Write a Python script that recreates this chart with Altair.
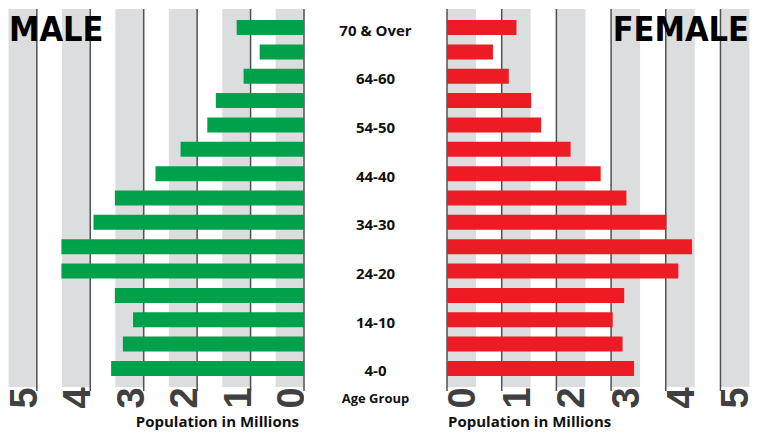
import altair as alt
import pandas as pd

ages = ["70 & Over", "69-65", "64-60", "59-55", "54-50", "49-45", "44-40", "39-35",
        "34-30", "29-25", "24-20", "19-15", "14-10", "9-5", "4-0"]
male = [1.26, 0.83, 1.13, 1.65, 1.81, 2.31, 2.78, 3.54, 3.94, 4.54, 4.54, 3.54, 3.20, 3.39, 3.61]
female = [1.27, 0.84, 1.13, 1.54, 1.72, 2.26, 2.81, 3.28, 4.01, 4.48, 4.23, 3.24, 3.03, 3.21, 3.42]
shown_ages = ["70 & Over", "64-60", "54-50", "44-40", "34-30", "24-20", "14-10", "4-0"]
ticks = [0, 1, 2, 3, 4, 5]

H = 378      # bar / band area
HT = 422     # full panel height (room for rotated tick labels and titles)
LW = 296
MW = 143
RW = 303
DOM = 5.54
BW = 0.53

GREEN = "#00A14B"
RED = "#ED1C24"
BAND = "#DCDDDF"
LINE = "#505050"
TICKC = "#404040"
LABEL_FONT = "Open Sans"
NUM_FONT = "Liberation Sans"
HEAD_FONT = "DejaVu Sans Condensed"

male_df = pd.DataFrame({"age": ages, "value": male})
female_df = pd.DataFrame({"age": ages, "value": female})
grid_df = pd.DataFrame({"v": ticks, "label": [str(t) for t in ticks]})
age_df = pd.DataFrame({"age": shown_ages})

yscale = alt.Scale(type="band", domain=ages, range=[0, H], paddingInner=0.383, paddingOuter=0.453)


def panel(df, color, reverse, width, title_text, tick_field):
    xs = alt.Scale(domain=[0, DOM], reverse=reverse, nice=False)
    base = alt.Chart(grid_df).transform_calculate(v2=f"datum.v + {BW}")
    bands = base.mark_rect(color=BAND).encode(
        x=alt.X("v:Q", scale=xs, axis=None),
        x2="v2:Q",
        y=alt.value(0),
        y2=alt.value(H),
    )
    rules = base.mark_rule(color=LINE, strokeWidth=1.5).encode(
        x=alt.X("v:Q", scale=xs, axis=None),
        y=alt.value(0),
        y2=alt.value(H + 4),
    )
    bars = alt.Chart(df).mark_bar(color=color).encode(
        x=alt.X("value:Q", scale=xs, axis=None),
        y=alt.Y("age:N", scale=yscale, axis=None, sort=ages),
    )
    tick_text = base.transform_calculate(
        pos=tick_field
    ).mark_text(angle=270, align="center", baseline="alphabetic", font=NUM_FONT,
                fontSize=38, fontWeight="bold", color=TICKC, clip=True).encode(
        x=alt.X("pos:Q", scale=xs, axis=None),
        y=alt.value(H + 11),
        text="label:N",
    )
    head = alt.Chart(pd.DataFrame({"t": [title_text]})).mark_text(
        align="left" if reverse else "right", baseline="alphabetic", font=HEAD_FONT,
        fontSize=34, fontWeight="bold", color="#000000"
    ).encode(
        x=alt.value(1 if reverse else width - 1),
        y=alt.value(32),
        text="t:N",
    )
    axis_title = alt.Chart(pd.DataFrame({"t": ["Population in Millions"]})).mark_text(
        align="right" if reverse else "left", baseline="alphabetic", font=LABEL_FONT,
        fontSize=15, fontWeight="bold", color="#111111"
    ).encode(
        x=alt.value(width - 5 if reverse else 1),
        y=alt.value(HT - 4),
        text="t:N",
    )
    return alt.layer(bands, rules, bars, tick_text, head, axis_title).properties(
        width=width, height=HT)


left = panel(male_df, GREEN, True, LW, "MALE", "datum.v")
right = panel(female_df, RED, False, RW, "FEMALE", "datum.v + 0.51")

mid_labels = alt.Chart(age_df).mark_text(
    font=LABEL_FONT, fontSize=15, fontWeight="bold", color="#111111", baseline="middle", dy=3
).encode(
    y=alt.Y("age:N", scale=yscale, axis=None),
    x=alt.value(MW / 2),
    text="age:N",
)
mid_title = alt.Chart(pd.DataFrame({"t": ["Age Group"]})).mark_text(
    font=LABEL_FONT, fontSize=13, fontWeight="bold", color="#111111", baseline="alphabetic"
).encode(
    x=alt.value(MW / 2),
    y=alt.value(H + 16),
    text="t:N",
)
middle = alt.layer(mid_labels, mid_title).properties(width=MW, height=HT)

chart = alt.hconcat(left, middle, right, spacing=0, bounds="flush").properties(
    padding=0
).configure_view(stroke=None)

chart.save("out.html", embed_options={"renderer": "svg", "actions": False})
